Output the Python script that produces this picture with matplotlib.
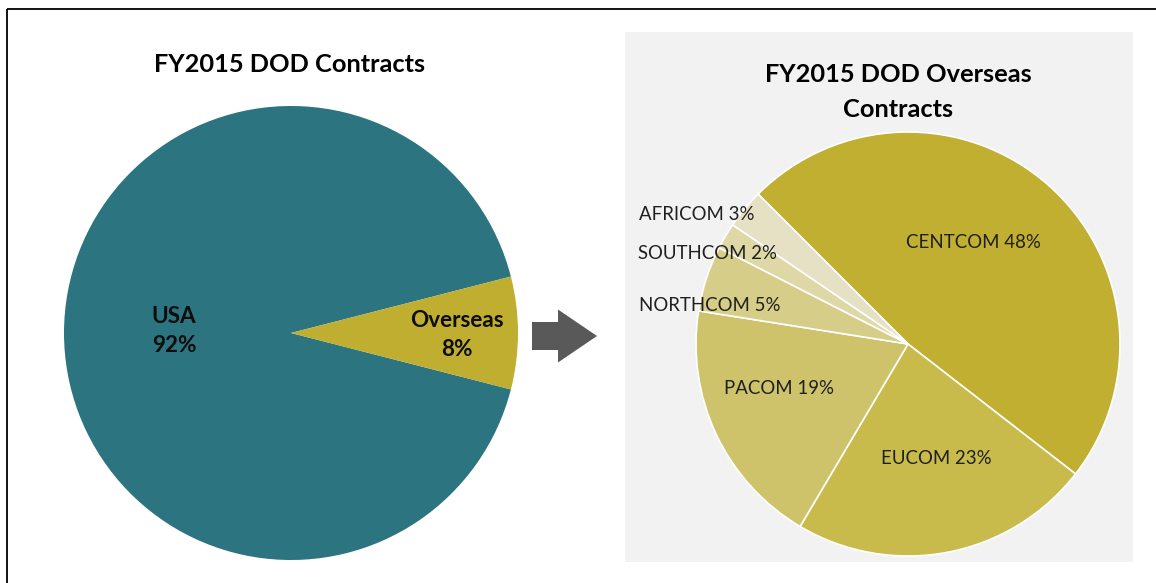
import matplotlib
matplotlib.use('Agg')
import matplotlib.pyplot as plt
from matplotlib.patches import Rectangle, FancyArrow

plt.rcParams['font.family'] = ['Lato', 'DejaVu Sans']

W, H = 1156, 583

# data
left_title = 'FY2015 DOD Contracts'
left_labels = ['USA', 'Overseas']
left_values = [92, 8]
left_colors = ['#2C7480', '#BFAE30']

right_title = 'FY2015 DOD Overseas\nContracts'
right_labels = ['CENTCOM', 'EUCOM', 'PACOM', 'NORTHCOM', 'SOUTHCOM', 'AFRICOM']
right_values = [48, 23, 19, 5, 2, 3]
right_colors = ['#C0AF30', '#C8BB4C', '#CEC36A', '#D6CD88', '#DED7A6', '#E6E1C4']

fig = plt.figure(figsize=(W / 100, H / 100), dpi=100)

# background: frame, grey panel, arrow (pixel coords)
bg = fig.add_axes([0, 0, 1, 1])
bg.set_xlim(0, W)
bg.set_ylim(H, 0)
bg.axis('off')
bg.add_patch(Rectangle((7, 9), W, H, fill=False, ec='black', lw=1.3))
bg.add_patch(Rectangle((625, 32), 508, 530, fc='#F2F2F2', ec='none'))
bg.add_patch(FancyArrow(532, 336, 65, 0, width=28, head_width=53, head_length=39,
                        length_includes_head=True, fc='#595959', ec='none'))
bg.text(290, 65, left_title, ha='center', va='center', fontsize=18.3, fontweight='bold')
bg.text(898, 92, right_title, ha='center', va='center', fontsize=18.3,
        fontweight='bold', linespacing=1.65)


def pie_axes(cx, cy, r):
    ax = fig.add_axes([(cx - r) / W, 1 - (cy + r) / H, 2 * r / W, 2 * r / H])
    return ax


# left pie
ax1 = pie_axes(291, 333, 227)
wedges, _ = ax1.pie(left_values, colors=left_colors, startangle=14.4)
ax1.set_xlim(-1, 1)
ax1.set_ylim(-1, 1)
left_xy = [(-0.515, 0.01), (0.73, -0.01)]
for lab, val, (x, y) in zip(left_labels, left_values, left_xy):
    ax1.text(x, y, f'{lab}\n{val}%', ha='center', va='center', fontsize=16.2,
             fontweight='bold', linespacing=1.45, color='#0D0D0D')

# right pie
ax2 = pie_axes(908, 344, 212)
ax2.pie(right_values, colors=right_colors, startangle=135, counterclock=False,
        wedgeprops=dict(edgecolor='white', linewidth=1.2))
ax2.set_xlim(-1, 1)
ax2.set_ylim(-1, 1)
right_xy = [(0.307, 0.481, 'center'), (0.132, -0.542, 'center'), (-0.608, -0.208, 'center'),
            (-1.27, 0.18, 'left'), (-1.274, 0.425, 'left'), (-1.27, 0.61, 'left')]
for lab, val, (x, y, ha) in zip(right_labels, right_values, right_xy):
    ax2.text(x, y, f'{lab} {val}%', ha=ha, va='center', fontsize=13.4, color='#1F1F1F')

fig.savefig('out.png', dpi=100)
